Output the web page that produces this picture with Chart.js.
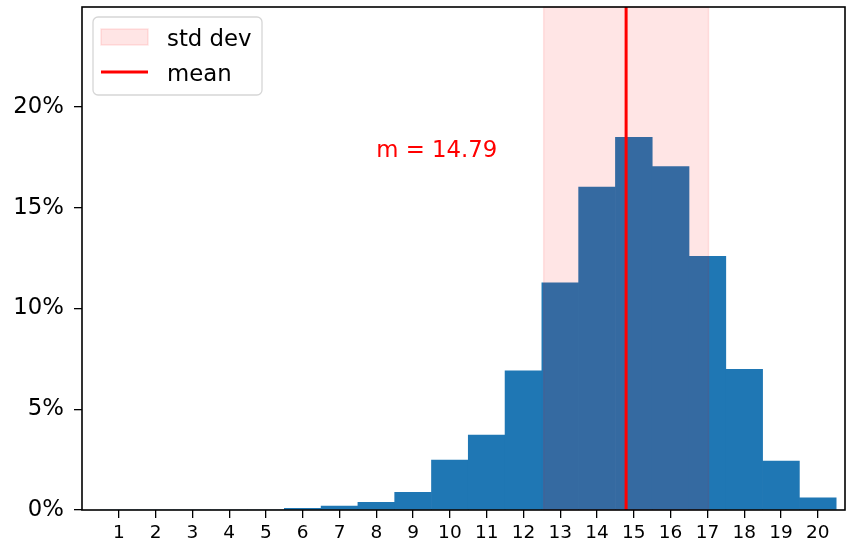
<!DOCTYPE html>
<html>
<head>
<meta charset="utf-8">
<script src="https://cdn.jsdelivr.net/npm/chart.js@4/dist/chart.umd.min.js"></script>
<style>
  html, body { margin: 0; padding: 0; background: #fff; }
  #wrap { width: 846px; height: 546px; }
</style>
</head>
<body>
<div id="wrap"><canvas id="hist-chart" width="846" height="546"></canvas></div>
<script>
// histogram bins (x) and share of samples in each bin (%)
const bins = [1, 2, 3, 4, 5, 6, 7, 8, 9, 10, 11, 12, 13, 14, 15, 16, 17, 18, 19, 20];
const shares = [0, 0, 0, 0, 0, 0.08, 0.2, 0.38, 0.88, 2.48, 3.72, 6.9, 11.27, 16.02, 18.49, 17.03, 12.58, 6.98, 2.43, 0.6];
const xTickLabels = [1, 2, 3, 4, 5, 6, 7, 8, 9, 10, 11, 12, 13, 14, 15, 16, 17, 18, 19, 20];
const yTickLabels = [0, 5, 10, 15, 20];
const meanVal = 14.79;
const stdVal = 2.24;
const legendLabels = ['std dev', 'mean'];

const FONT = '"DejaVu Sans", sans-serif';
const BIG = 22.8;
const BLUE = '#1f77b4';

// std band + mean line drawn on top of the bars, then frame, legend and note
const overlays = {
  id: 'overlays',
  afterDatasetsDraw: function (chart) {
    const ctx = chart.ctx;
    const area = chart.chartArea;
    const xs = chart.scales.x;
    const ys = chart.scales.y;

    // std dev band
    const x0 = xs.getPixelForValue(meanVal - stdVal);
    const x1 = xs.getPixelForValue(meanVal + stdVal);
    ctx.save();
    ctx.fillStyle = 'rgba(255, 0, 0, 0.1)';
    ctx.fillRect(x0, area.top, x1 - x0, area.bottom - area.top);
    ctx.strokeStyle = 'rgba(255, 0, 0, 0.1)';
    ctx.lineWidth = 1.5;
    ctx.strokeRect(x0, area.top, x1 - x0, area.bottom - area.top);

    // mean line
    const xm = xs.getPixelForValue(meanVal);
    ctx.strokeStyle = '#ff0000';
    ctx.lineWidth = 3;
    ctx.beginPath();
    ctx.moveTo(xm, area.top);
    ctx.lineTo(xm, area.bottom);
    ctx.stroke();

    // note
    ctx.fillStyle = '#ff0000';
    ctx.font = BIG + 'px ' + FONT;
    ctx.textAlign = 'left';
    ctx.textBaseline = 'alphabetic';
    ctx.fillText('m = ' + meanVal.toFixed(2), xs.getPixelForValue(8.0), ys.getPixelForValue(17.5));

    // frame (spines)
    ctx.strokeStyle = '#000';
    ctx.lineWidth = 1.6;
    ctx.strokeRect(area.left, area.top, area.right - area.left, area.bottom - area.top);

    // legend box
    const lx = 93, ly = 17, lw = 169, lh = 78, r = 5;
    ctx.beginPath();
    ctx.moveTo(lx + r, ly);
    ctx.arcTo(lx + lw, ly, lx + lw, ly + lh, r);
    ctx.arcTo(lx + lw, ly + lh, lx, ly + lh, r);
    ctx.arcTo(lx, ly + lh, lx, ly, r);
    ctx.arcTo(lx, ly, lx + lw, ly, r);
    ctx.closePath();
    ctx.fillStyle = 'rgba(255, 255, 255, 0.8)';
    ctx.fill();
    ctx.strokeStyle = '#d6d6d6';
    ctx.lineWidth = 1.3;
    ctx.stroke();

    ctx.fillStyle = 'rgba(255, 0, 0, 0.1)';
    ctx.fillRect(101, 29, 47, 16);
    ctx.strokeStyle = 'rgba(255, 0, 0, 0.1)';
    ctx.lineWidth = 1.5;
    ctx.strokeRect(101, 29, 47, 16);

    ctx.strokeStyle = '#ff0000';
    ctx.lineWidth = 3;
    ctx.beginPath();
    ctx.moveTo(101, 72);
    ctx.lineTo(148, 72);
    ctx.stroke();

    ctx.fillStyle = '#000';
    ctx.font = BIG + 'px ' + FONT;
    ctx.fillText(legendLabels[0], 167, 46);
    ctx.fillText(legendLabels[1], 167, 80.5);
    ctx.restore();
  }
};

// drop the label padding Chart.js adds around the plot
function noPad(scale) {
  scale.paddingTop = 0;
  scale.paddingBottom = 0;
  scale.paddingLeft = 0;
  scale.paddingRight = 0;
}

const ctx = document.getElementById('hist-chart');

new Chart(ctx, {
  type: 'bar',
  data: {
    datasets: [{
      label: 'share',
      data: bins.map((b, i) => ({ x: b, y: shares[i] })),
      backgroundColor: BLUE,
      borderWidth: 0,
      barPercentage: 1.0,
      categoryPercentage: 1.0,
    }]
  },
  options: {
    responsive: false,
    animation: false,
    layout: {
      padding: { top: 7, right: 1, left: 0, bottom: 0 }
    },
    scales: {
      x: {
        type: 'linear',
        min: 0,
        max: 20.74,
        offset: false,
        afterBuildTicks: function (scale) {
          scale.ticks = xTickLabels.map(v => ({ value: v }));
        },
        afterFit: function (scale) {
          scale.height = 36;
          noPad(scale);
        },
        border: { display: false },
        grid: {
          offset: false,
          drawOnChartArea: false,
          drawTicks: true,
          tickLength: 8,
          color: '#000',
          lineWidth: 1.3,
        },
        ticks: {
          color: '#000',
          padding: 4,
          maxRotation: 0,
          autoSkip: false,
          font: { family: FONT, size: 18.5 },
        }
      },
      y: {
        min: 0,
        max: 24.95,
        afterBuildTicks: function (scale) {
          scale.ticks = yTickLabels.map(v => ({ value: v }));
        },
        afterFit: function (scale) {
          scale.width = 82;
          noPad(scale);
        },
        border: { display: false },
        grid: {
          drawOnChartArea: false,
          drawTicks: true,
          tickLength: 8,
          color: '#000',
          lineWidth: 1.3,
        },
        ticks: {
          color: '#000',
          padding: 10,
          font: { family: FONT, size: BIG },
          callback: function (value) {
            return value + '%';
          }
        }
      }
    },
    plugins: {
      legend: { display: false },
      tooltip: { enabled: false }
    }
  },
  plugins: [overlays]
});
</script>
</body>
</html>
